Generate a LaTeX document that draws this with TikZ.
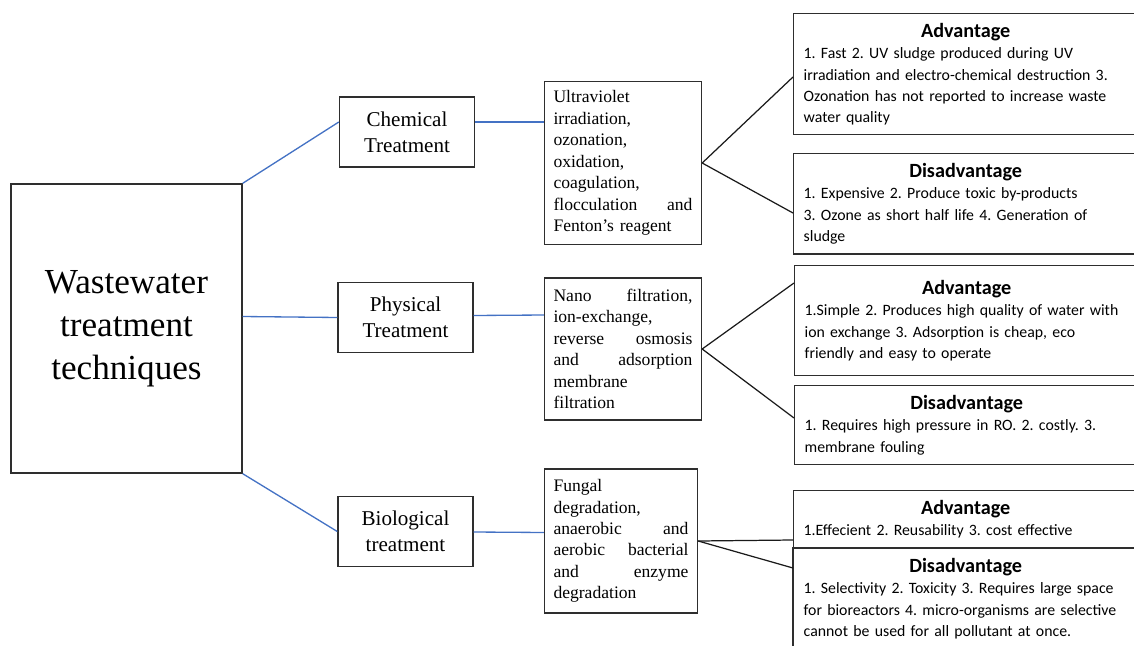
\documentclass[tikz,border=0pt]{standalone}
\usepackage{fontspec}
\setmainfont{Liberation Serif}
\setsansfont{Carlito}
\usepackage{xcolor}
\usetikzlibrary{calc}
\definecolor{edge}{HTML}{2E2E2E}
\definecolor{link}{HTML}{4472C4}
\definecolor{ink}{HTML}{1A1A1A}
\tikzset{
  box/.style={draw=edge, line width=0.8pt},
  rootbox/.style={box, minimum width=4.62cm, minimum height=5.78cm, align=center, font=\fontsize{20}{24.4}\selectfont},
  kindbox/.style={box, minimum width=2.7cm, minimum height=1.4cm, align=center, font=\fontsize{12}{14.7}\selectfont},
  methbox/.style={box, text width=2.78cm, inner sep=0.18cm, align=left, font=\fontsize{10}{12.2}\selectfont},
  notebox/.style={box, anchor=north west, text width=6.48cm, inner sep=0.2cm, align=left, font=\sffamily\fontsize{9}{12}\selectfont},
  blink/.style={draw=link, line width=0.75pt},
  klink/.style={draw=ink, line width=0.7pt}
}
\newcommand{\headline}[1]{\hfill{\fontsize{11.5}{12}\selectfont\bfseries #1}\hfill\null}
\frenchspacing

\begin{document}
\begin{tikzpicture}[x=0.02cm, y=-0.02cm]
  \useasboundingbox (0,0) rectangle (1134,646);
  \clip (0,0) rectangle (1134,646);

  \node[rootbox] (root) at (126.5,328.5) {Wastewater\\treatment\\techniques};

  \node[kindbox] (chem) at (407,132)   {Chemical\\Treatment};
  \node[kindbox] (phys) at (405.5,317.5) {Physical\\Treatment};
  \node[kindbox] (bio)  at (405.5,531.5) {Biological\\treatment};

  \node[methbox, minimum height=3.24cm] (techa) at (623,163)
    {Ultraviolet\\irradiation,\\ozonation,\\oxidation,\\coagulation,\\flocculation\hfill and\\Fenton’s reagent};
  \node[methbox, minimum height=2.84cm] (techb) at (623,349)
    {Nano\hfill filtration,\\ion-exchange,\\reverse\hfill osmosis\\and\hfill adsorption\\membrane\\filtration};
  \node[methbox, text width=2.7cm, minimum height=2.88cm] (techc) at (621,541)
    {Fungal\\degradation,\\anaerobic\hfill and\\aerobic\hfill bacterial\\and\hfill enzyme\\degradation};

  % chemical
  \node[notebox, minimum height=2.4cm] (adva) at (793,13)
    {\headline{Advantage}\\1. Fast 2. UV sludge produced during UV\\irradiation and electro-chemical destruction 3.\\Ozonation has not reported to increase waste\\water quality};
  \node[notebox] (disa) at (793,153)
    {\headline{Disadvantage}\\1. Expensive 2. Produce toxic by-products\\3. Ozone as short half life 4. Generation of\\sludge};

  % physical
  \node[notebox, minimum height=2.2cm] (advb) at (794,265)
    {\headline{Advantage}\\1.Simple 2. Produces high quality of water with\\ion exchange 3. Adsorption is cheap, eco\\friendly and easy to operate};
  \node[notebox, minimum height=1.5cm] (disb) at (794,385)
    {\headline{Disadvantage}\\1. Requires high pressure in RO. 2. costly. 3.\\membrane fouling};

  % biological
  \node[notebox, minimum height=1.1cm] (advc) at (793,490)
    {\headline{Advantage}\\1.Effecient 2. Reusability 3. cost effective};
  \node[notebox, draw=none] (disc) at (793,548)
    {\headline{Disadvantage}\\1. Selectivity 2. Toxicity 3. Requires large space\\for bioreactors 4. micro-organisms are selective\\cannot be used for all pollutant at once.};
  \draw[box] (disc.north west) rectangle ($(disc.south east)+(0,20)$);

  \draw[blink] (root.north east) -- ($(chem.west)+(0,-10)$);
  \draw[blink] ($(root.east)+(0,-12)$) -- (phys.west);
  \draw[blink] (root.south east) -- (bio.west);

  \draw[blink] ($(chem.east)+(0,-10)$) -- ($(techa.west)+(0,-41)$);
  \draw[blink] ($(phys.east)+(0,-2)$) -- ($(techb.west)+(0,-34)$);
  \draw[blink] ($(bio.east)+(0,0.5)$) -- ($(techc.west)+(0,-8.5)$);

  \draw[klink] (techa.east) -- ($(adva.north west)+(0,64)$);
  \draw[klink] (techa.east) -- ($(disa.north west)+(0,60)$);
  \draw[klink] (techb.east) -- ($(advb.north west)+(0,18)$);
  \draw[klink] (techb.east) -- ($(disb.north west)+(0,33)$);
  \draw[klink] (techc.east) -- ($(advc.north west)+(0,50)$);
  \draw[klink] (techc.east) -- ($(disc.north west)+(0,20)$);
\end{tikzpicture}
\end{document}
